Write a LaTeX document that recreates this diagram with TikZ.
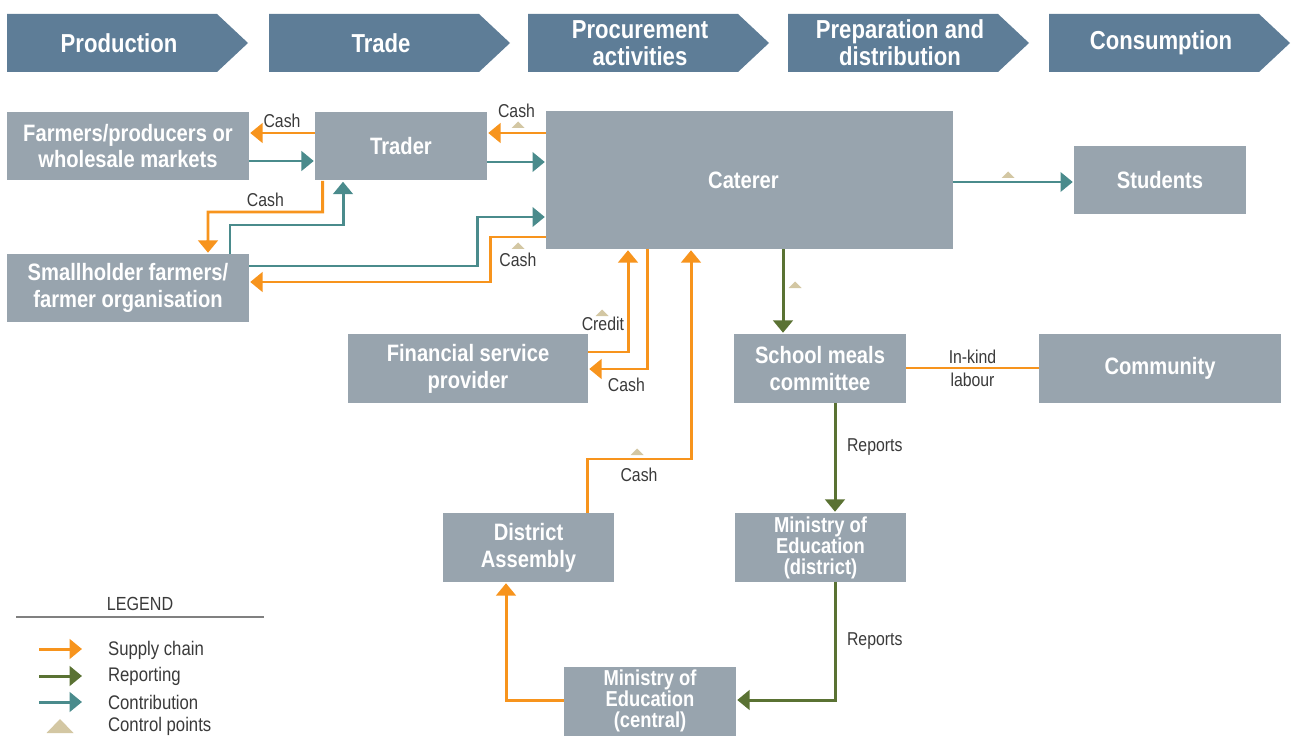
\documentclass[tikz,border=0pt]{standalone}
\usepackage{fontspec}
\setmainfont{Liberation Sans}[FakeStretch=0.85]
\usepackage{tikz}
\usetikzlibrary{arrows.meta}

\definecolor{boxgray}{HTML}{98A4AE}
\definecolor{bannerblue}{HTML}{5E7D97}
\definecolor{supplyorange}{HTML}{F7941D}
\definecolor{reportgreen}{HTML}{5A7233}
\definecolor{contribteal}{HTML}{4A8B8C}
\definecolor{ctrlbeige}{HTML}{D3C7A3}
\definecolor{labelgray}{HTML}{3A3A3A}

\begin{document}
\begin{tikzpicture}[x=0.02cm, y=-0.02cm,
    stage/.style={text=white, font=\bfseries\fontsize{14.8}{15.3}\selectfont, align=center},
    box/.style={fill=boxgray, text=white, font=\bfseries\fontsize{13.5}{15.3}\selectfont,
        align=center, inner sep=0pt, minimum width=3.44cm, minimum height=1.38cm},
    smallbox/.style={box, font=\bfseries\fontsize{12.3}{12}\selectfont},
    lbl/.style={text=labelgray, font=\fontsize{10.6}{13}\selectfont, inner sep=1pt, align=center},
    flow/.style={line width=1.7pt, -{Triangle[length=7pt, width=11pt]}, shorten >=0.5pt},
    supply/.style={flow, supplyorange},
    report/.style={flow, reportgreen},
    contrib/.style={flow, contribteal},
    ctrl/.pic={\fill[ctrlbeige] (-6.5,0) -- (6.5,0) -- (0,-6.5) -- cycle;},
    bigctrl/.pic={\fill[ctrlbeige] (-13.5,0) -- (13.5,0) -- (0,-14) -- cycle;}]

    \useasboundingbox (0,0) rectangle (1293,736);

    % Stages
    \foreach \x/\name/\txt in {7/production/Production, 269/trade/Trade,
        528/procurement/{Procurement\\activities}, 788/preparation/{Preparation and\\distribution},
        1049/consumption/Consumption} {
        \fill[bannerblue] (\x,14) -- ++(210,0) -- ++(31,29) -- ++(-31,29) -- ++(-210,0) -- cycle;
        \node[stage] (\name) at (\x+112,43) {\txt};
    }

    % Define nodes
    \node[box, minimum width=4.84cm] at (128,146) (farmers) {Farmers/producers or\\wholesale markets};
    \node[box] at (401,146) (trader) {Trader};
    \node[box, minimum width=8.14cm, minimum height=2.76cm] at (749.5,180) (caterer) {\hspace*{-0.24cm}Caterer};
    \node[box] at (1160,180) (students) {Students};
    \node[box, minimum width=4.84cm, minimum height=1.36cm] at (128,288) (smallholder) {Smallholder farmers/\\farmer organisation};
    \node[box, minimum width=4.8cm] at (468,368.5) (finance) {Financial service\\provider};
    \node[box] at (820,368.5) (committee) {School meals\\committee};
    \node[box, minimum width=4.84cm] at (1160,368.5) (community) {Community};
    \node[box, minimum width=3.42cm] at (528.5,547.5) (assembly) {District\\Assembly};
    \node[smallbox, minimum width=3.42cm] at (820.5,547.5) (moedistrict) {Ministry of\\Education\\(district)};
    \node[smallbox] at (650,701) (moecentral) {Ministry of\\Education\\(central)};

    % Supply chain
    \draw[supply] (trader.west |- 0,133) -- (farmers.east |- 0,133) node[lbl, midway, above=1pt] {Cash};
    \draw[supply] (caterer.west |- 0,133) -- (trader.east |- 0,133) node[lbl, midway, above=7pt] {Cash};
    \draw[supply] ([xshift=0.16cm]trader.south west) |- (208,212) node[lbl, pos=0.75, above=1pt] {Cash}
        -- ([xshift=1.6cm]smallholder.north);
    \draw[supply] (caterer.west |- 0,237) -- (490,237) node[lbl, midway, below=7pt] {Cash}
        |- (smallholder.east |- 0,282);
    \draw[supply] (finance.east |- 0,352) -| (caterer.south -| 628,0) node[lbl, pos=0.25, above=10pt, xshift=-3pt] {Credit};
    \draw[supply] (caterer.south -| 647,0) |- (finance.east |- 0,369) node[lbl, pos=0.75, below=3pt, xshift=5pt] {Cash};
    \draw[supply] (assembly.north -| 587,0) |- (691,459) node[lbl, pos=0.75, below=3pt] {Cash}
        -- (caterer.south -| 691,0);
    \draw[supply] (moecentral.west |- 0,700) -| (assembly.south -| 506,0);
    \draw[line width=1.7pt, supplyorange] (committee.east |- 0,368) -- (community.west |- 0,368)
        node[lbl, midway] {In-kind\\labour};

    % Contribution
    \draw[contrib] (farmers.east |- 0,161) -- (trader.west |- 0,161);
    \draw[contrib] (trader.east |- 0,162) -- (caterer.west |- 0,162);
    \draw[contrib] (smallholder.north -| 230,0) |- (343,225) -- (trader.south -| 343,0);
    \draw[contrib] (smallholder.east |- 0,266) -- (477,266) |- (caterer.west |- 0,217);
    \draw[contrib] (caterer.east |- 0,182) -- (students.west |- 0,182);

    % Reporting
    \draw[report] (caterer.south -| 783,0) -- (committee.north -| 783,0);
    \draw[report] (committee.south -| 835,0) -- (moedistrict.north -| 835,0)
        node[lbl, midway, right=5pt, yshift=6pt] {Reports};
    \draw[report] (moedistrict.south -| 835,0) |- (moecentral.east |- 0,700)
        node[lbl, pos=0.25, right=5pt] {Reports};

    % Control points
    \pic at (518,128) {ctrl};
    \pic at (518,249) {ctrl};
    \pic at (602,316) {ctrl};
    \pic at (1008,178) {ctrl};
    \pic at (795,288) {ctrl};
    \pic at (637,455) {ctrl};

    % Legend
    \node[lbl, font=\fontsize{10.8}{13}\selectfont] at (140,604) (legend) {LEGEND};
    \draw[line width=1.3pt, gray] (16,617) -- (264,617);
    \coordinate (sa) at (39,649); \coordinate (sb) at (82,649);
    \coordinate (ra) at (39,676); \coordinate (rb) at (82,676);
    \coordinate (ca) at (39,702); \coordinate (cb) at (82,702);
    \draw[supply, shorten >=0pt] (sa) -- (sb);
    \draw[report, shorten >=0pt] (ra) -- (rb);
    \draw[contrib, shorten >=0pt] (ca) -- (cb);
    \pic at (60,733) {bigctrl};
    \node[lbl, anchor=west, font=\fontsize{11.2}{13}\selectfont] at (106,650) (lsupply) {Supply chain};
    \node[lbl, anchor=west, font=\fontsize{11.2}{13}\selectfont] at (106,676) (lreport) {Reporting};
    \node[lbl, anchor=west, font=\fontsize{11.2}{13}\selectfont] at (106,702) (lcontrib) {Contribution};
    \node[lbl, anchor=west, font=\fontsize{11.2}{13}\selectfont] at (106,726) (lctrl) {Control points};
\end{tikzpicture}
\end{document}
